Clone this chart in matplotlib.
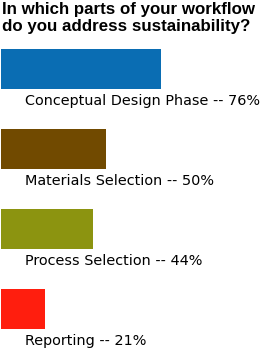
import matplotlib
matplotlib.use("Agg")
import matplotlib.pyplot as plt

categories = ["Conceptual Design Phase", "Materials Selection", "Process Selection", "Reporting"]
values = [76, 50, 44, 21]
colors = ["#0A6DB3", "#714A00", "#8C9410", "#FF1E0E"]
title = "In which parts of your workflow\ndo you address sustainability?"

plt.rcParams["font.family"] = "DejaVu Sans"

fig = plt.figure(figsize=(2.6, 3.51), dpi=100)
ax = fig.add_axes([1 / 260, 0, 259 / 260, 1])
ax.set_xlim(0, 259 / 2.1)
ax.set_ylim(3.525, -0.8625)
ax.axis("off")

for i, (cat, val, col) in enumerate(zip(categories, values, colors)):
    ax.barh(i, val, height=0.5, left=0, color=col)
    ax.text(11.5, i + 0.4, f"{cat} -- {val}%", fontsize=10.4, va="center", ha="left", color="black")

fig.text(2 / 260, 1 - 2 / 351, title, fontsize=12.2, fontweight="heavy", va="top", ha="left",
         linespacing=1.2, family="Liberation Sans")

fig.savefig("out.png", dpi=100)
